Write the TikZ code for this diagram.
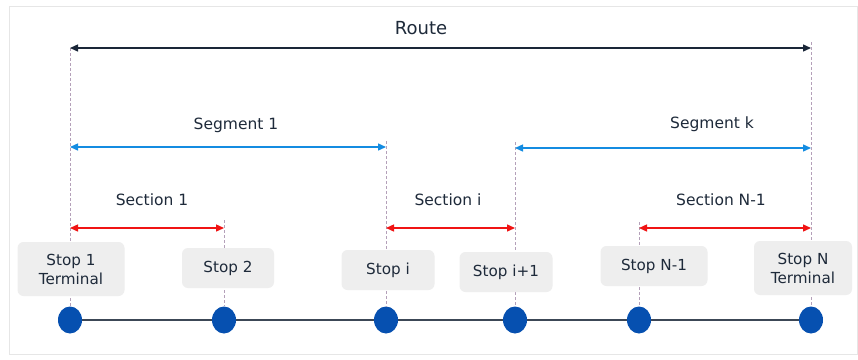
\documentclass[tikz,border=0pt]{standalone}
\usepackage{fontspec}
\setmainfont{DejaVu Sans}
\usepackage{xcolor}
\definecolor{navytext}{RGB}{30,42,58}
\definecolor{routenavy}{RGB}{26,38,56}
\definecolor{segblue}{RGB}{20,140,225}
\definecolor{secred}{RGB}{240,20,20}
\definecolor{stopblue}{RGB}{6,80,176}
\definecolor{boxgrey}{RGB}{238,238,238}
\definecolor{guidegrey}{RGB}{180,160,185}
\definecolor{framegrey}{RGB}{230,230,230}
\usetikzlibrary{shapes.geometric, arrows.meta, positioning, calc}

\begin{document}
\begin{tikzpicture}[
    x=1pt, y=-1pt,
    stop/.style={ellipse, fill=stopblue, minimum width=24pt, minimum height=27pt, inner sep=0pt},
    stopbox/.style={rectangle, fill=boxgrey, rounded corners=6pt, align=center,
                  text=navytext, inner sep=2pt, font=\fontsize{15.2}{19}\selectfont},
    spanlabel/.style={text=navytext, font=\fontsize{15.5}{18}\selectfont},
    routearrow/.style={{Triangle[length=8pt,width=7pt]}-{Triangle[length=8pt,width=7pt]}, line width=1.4pt, routenavy},
    segarrow/.style={{Triangle[length=8pt,width=7pt]}-{Triangle[length=8pt,width=7pt]}, line width=1.4pt, segblue},
    secarrow/.style={{Triangle[length=8pt,width=7pt]}-{Triangle[length=8pt,width=7pt]}, line width=1.4pt, secred},
    guide/.style={guidegrey, line width=0.6pt, dash pattern=on 3pt off 2pt}
]
    \useasboundingbox (0,0) rectangle (858,359);
    \draw[framegrey, fill=white, line width=1pt] (9,6) rectangle (857,354);

    % Stops on the line
    \node[stop] (s1) at (70,320) {};
    \node[stop] (s2) at (224,320) {};
    \node[stop] (si) at (386,320) {};
    \node[stop] (sj) at (515,320) {};
    \node[stop] (sm) at (639,320) {};
    \node[stop] (sn) at (811,320) {};

    % Arrow ends
    \coordinate (r1) at (70,48);   \coordinate (r2) at (811,48);
    \coordinate (g1) at (70,147);  \coordinate (g2) at (386,147);
    \coordinate (g3) at (515,148); \coordinate (g4) at (811,148);
    \coordinate (c1) at (70,228);  \coordinate (c2) at (224,228);
    \coordinate (c3) at (386,228); \coordinate (c4) at (515,228);
    \coordinate (c5) at (639,228); \coordinate (c6) at (811,228);

    % Guide lines
    \draw[guide] (r1) -- (s1);
    \draw[guide] ($(r2)+(0,-6)$) -- (sn);
    \draw[guide] ($(c2)+(0,-8)$) -- (s2);
    \draw[guide] ($(g2)+(0,-6)$) -- (si);
    \draw[guide] ($(g3)+(0,-6)$) -- (sj);
    \draw[guide] ($(c5)+(0,-6)$) -- (sm);

    % Line through the stops
    \draw[routenavy!85, line width=1.4pt] (s1) -- (s2) -- (si) -- (sj) -- (sm) -- (sn);

    % Stop labels
    \node[stopbox, minimum width=107pt, minimum height=54pt] (b1) at (71,269) {Stop 1\\Terminal};
    \node[stopbox, minimum width=92pt, minimum height=40pt] (b2) at (228,268) {Stop 2};
    \node[stopbox, minimum width=93pt, minimum height=40pt] (bi) at (388,270) {Stop i};
    \node[stopbox, minimum width=93pt, minimum height=40pt] (bj) at (506,272) {Stop i+1};
    \node[stopbox, minimum width=107pt, minimum height=40pt] (bm) at (654,266) {Stop N-1};
    \node[stopbox, minimum width=98pt, minimum height=54pt] (bn) at (803,268) {Stop N\\Terminal};

    % Spans
    \draw[routearrow] (r1) -- (r2);
    \node[text=navytext, font=\fontsize{18}{21}\selectfont] (route) at (421,28) {Route};

    \draw[segarrow] (g1) -- (g2);
    \draw[segarrow] (g3) -- (g4);
    \node[spanlabel] (seg1) at (236,125) {Segment 1};
    \node[spanlabel] (segk) at (712,124) {Segment k};

    \draw[secarrow] (c1) -- (c2);
    \draw[secarrow] (c3) -- (c4);
    \draw[secarrow] (c5) -- (c6);
    \node[spanlabel] (sec1) at (152,200) {Section 1};
    \node[spanlabel] (seci) at (448,200) {Section i};
    \node[spanlabel] (secm) at (721,200) {Section N-1};
\end{tikzpicture}
\end{document}
